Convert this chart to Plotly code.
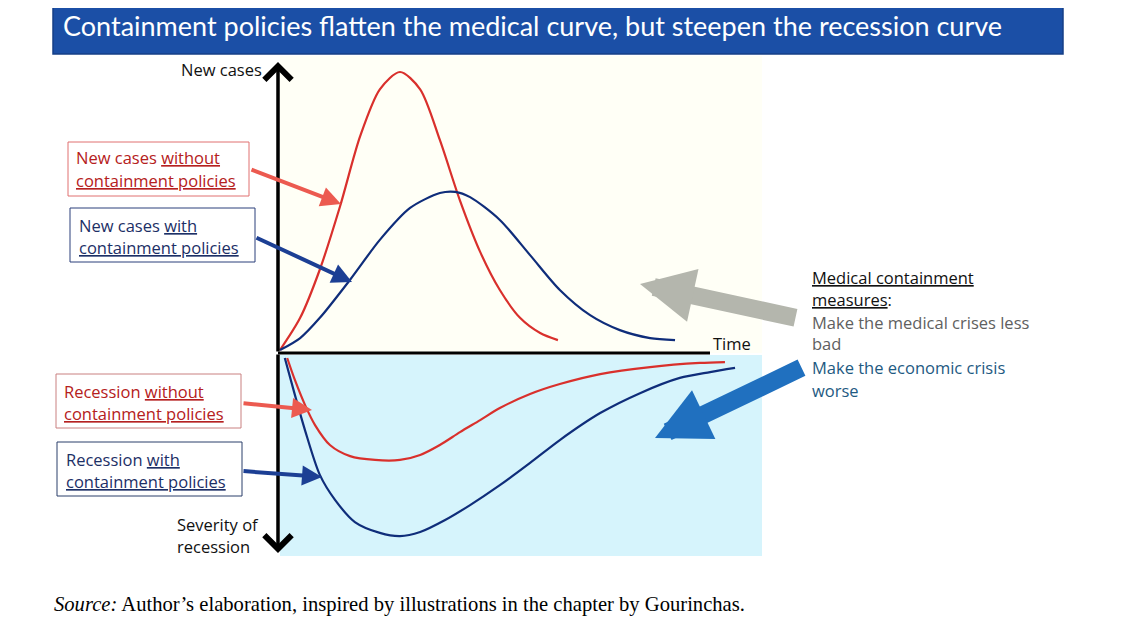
import plotly.graph_objects as go

# page body has an 8px margin; the figure is sized/offset to compensate
OFF = 8
W, H = 1124 - OFF, 640 - OFF

# ---- data (conceptual units: time 0..100, value: new cases up / severity down) ----
red_cases_t = [0, 4.2, 8.3, 12.5, 16.7, 20.8, 25.0, 29.2, 33.3, 37.5, 41.7, 45.8, 50.0, 54.2, 57.9]
red_cases_v = [1.0, 12.0, 28.5, 50.0, 74.0, 90.0, 95.9, 90.0, 72.7, 52.0, 34.5, 21.5, 12.0, 6.8, 4.4]

blue_cases_t = [0, 4.2, 8.3, 14.6, 20.8, 27.1, 33.3, 36.5, 39.6, 45.8, 52.1, 58.3, 64.6, 70.8, 77.1, 82.3]
blue_cases_v = [1.0, 5.1, 12.0, 25.0, 38.6, 49.5, 54.6, 55.0, 53.2, 45.4, 33.4, 21.5, 12.9, 7.8, 5.1, 4.4]

red_rec_t = [1.5, 3.1, 5.2, 7.3, 10.4, 14.6, 19.8, 25.0, 29.2, 33.3, 37.5, 41.7, 45.8, 52.1, 58.3, 66.7, 77.1, 87.5, 92.7]
red_rec_v = [-1.7, -9.2, -17.7, -24.6, -31.4, -35.2, -36.5, -36.5, -34.8, -31.4, -27.0, -22.9, -18.8, -14.0, -10.6, -7.2, -4.8, -3.4, -3.1]

blue_rec_t = [1.0, 3.1, 5.2, 8.3, 11.5, 15.6, 20.8, 25.0, 29.2, 34.4, 39.6, 45.8, 52.1, 58.3, 66.7, 75.0, 83.3, 89.6, 94.8]
blue_rec_v = [-1.7, -14.3, -26.3, -41.6, -50.2, -57.7, -61.4, -62.5, -61.1, -57.0, -51.9, -45.1, -37.5, -29.7, -20.5, -13.7, -8.5, -6.5, -5.1]

title_text = "Containment policies flatten the medical curve, but steepen the recession curve"
source_text = "<i>Source:</i> Author’s elaboration, inspired by illustrations in the chapter by Gourinchas."

# ---- pixel <-> axis helpers (px/py = position in the 1124x640 window) ----
PX0, PXS = 280.0, 4.8      # t=0 at px 280, 4.8 px per unit
PY0, PYS = 353.0, 2.93     # v=0 at py 353, 2.93 px per unit
def tx(px):
    return (px - PX0) / PXS
def vy(py):
    return (PY0 - py) / PYS
def pxp(px):
    return (px - OFF) / W
def pyp(py):
    return 1 - (py - OFF) / H

RED = "#d9302c"
NAVY = "#0f2d7a"

fig = go.Figure()
for xs, ys, c in [(red_cases_t, red_cases_v, RED), (blue_cases_t, blue_cases_v, NAVY),
                  (red_rec_t, red_rec_v, RED), (blue_rec_t, blue_rec_v, NAVY)]:
    fig.add_trace(go.Scatter(x=xs, y=ys, mode="lines",
                             line=dict(color=c, width=2.2, shape="spline", smoothing=0.8),
                             hoverinfo="skip"))

shapes = []
# backgrounds
shapes.append(dict(type="rect", xref="x", yref="y", x0=tx(280), x1=tx(762), y0=vy(353), y1=vy(56),
                   fillcolor="#fffff6", line=dict(width=0), layer="below"))
shapes.append(dict(type="rect", xref="x", yref="y", x0=tx(280), x1=tx(762), y0=vy(355), y1=vy(556),
                   fillcolor="#d6f4fc", line=dict(width=0), layer="below"))
# title bar
shapes.append(dict(type="rect", xref="paper", yref="paper", x0=pxp(53), x1=pxp(1063), y0=pyp(54), y1=pyp(-2),
                   fillcolor="#1b4fa6", line=dict(color="#163f86", width=1.5), layer="below"))
# horizontal time axis
shapes.append(dict(type="line", xref="x", yref="y", x0=tx(278), x1=tx(710), y0=0, y1=0,
                   line=dict(color="black", width=3)))
# label boxes
boxes = [
    (68, 142, 249, 196, "#e07070"),
    (70, 208, 255, 262, "#2a3f7a"),
    (56, 374, 241, 428, "#c98080"),
    (57, 442, 242, 496, "#2a3f6a"),
]
for x0, y0, x1, y1, c in boxes:
    shapes.append(dict(type="rect", xref="paper", yref="paper", x0=pxp(x0), x1=pxp(x1),
                       y0=pyp(y1), y1=pyp(y0), line=dict(color=c, width=1), fillcolor="white"))

ann = []
def txt(px, py, s, color, size=16.5, xanchor="left", family="Open Sans"):
    ann.append(dict(x=pxp(px), y=pyp(py), xref="paper", yref="paper", text=s, showarrow=False,
                    xanchor=xanchor, yanchor="middle", align="left",
                    font=dict(family=family, size=size, color=color)))

def arrow(x0, y0, x1, y1, color, width, size=1.0, head=2):
    ann.append(dict(x=tx(x1), y=vy(y1), ax=tx(x0), ay=vy(y0), xref="x", yref="y", axref="x", ayref="y",
                    text="", showarrow=True, arrowhead=head, arrowsize=size, arrowwidth=width,
                    arrowcolor=color, standoff=0, startstandoff=0))

# title
ann.append(dict(x=pxp(61), y=pyp(25), xref="paper", yref="paper", text=title_text, showarrow=False,
                xanchor="left", yanchor="middle", font=dict(family="Lato", size=27, color="white")))
# source
txt(52, 604, source_text, "black", size=20.6, family="Liberation Serif")

# axis labels
txt(179, 70, "New cases", "#111111")
txt(175, 524, "Severity of", "#111111")
txt(175, 546, "recession", "#111111")
txt(711, 344, "Time", "#111111")

# box labels
DR = "#b52020"
DN = "#1c2f66"
txt(74, 158, "New cases <u>without</u>", DR)
txt(74, 180, "<u>containment policies</u>", DR)
txt(77, 225, "New cases <u>with</u>", DN)
txt(77, 247, "<u>containment policies</u>", DN)
txt(62, 391, "Recession <u>without</u>", DR)
txt(62, 413, "<u>containment policies</u>", DR)
txt(64, 459, "Recession <u>with</u>", DN)
txt(64, 481, "<u>containment policies</u>", DN)

# right text
txt(810, 277, "<u>Medical containment</u>", "#111111")
txt(810, 299, "<u>measures</u>:", "#111111")
txt(810, 322, "Make the medical crises less", "#606060")
txt(810, 344, "bad", "#606060")
txt(810, 367, "Make the economic crisis", "#1e5a82")
txt(810, 390, "worse", "#1e5a82")

# vertical axis with chevron arrowheads at both ends
arrow(278, 353, 278, 62, "black", 3.5, size=1.5, head=4)
arrow(278, 353, 278, 553, "black", 3.5, size=1.5, head=4)

# label arrows
arrow(250, 169, 341, 204, "#ec5a50", 4, size=1.0, head=2)
arrow(255, 237, 352, 282, "#1c3f94", 4, size=1.0, head=2)
arrow(242, 403, 312, 410, "#ec5a50", 4, size=1.0, head=2)
arrow(242, 471, 322, 477, "#1c3f94", 4, size=1.0, head=2)

# big arrows
arrow(797, 318, 640, 284, "#b4b6ad", 18, size=0.6, head=2)
arrow(803, 367, 655, 438, "#2070bf", 18, size=0.6, head=2)

fig.update_layout(
    width=W, height=H, margin=dict(l=0, r=0, t=0, b=0),
    paper_bgcolor="white", plot_bgcolor="white", showlegend=False,
    xaxis=dict(range=[tx(OFF), tx(OFF + W)], domain=[0, 1], visible=False, fixedrange=True),
    yaxis=dict(range=[vy(OFF + H), vy(OFF)], domain=[0, 1], visible=False, fixedrange=True),
    shapes=shapes, annotations=ann,
)
fig.write_html("out.html")
